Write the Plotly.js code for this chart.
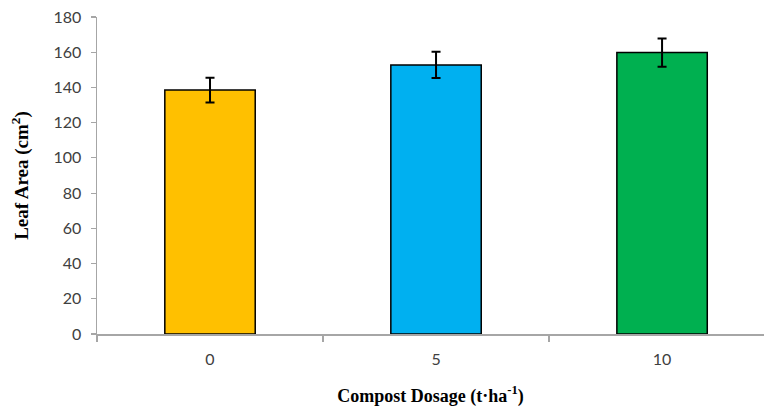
<!DOCTYPE html>
<html>
<head>
<meta charset="utf-8">
<script src="https://cdn.plot.ly/plotly-3.0.1.min.js"></script>
<style>html,body{margin:0;padding:0;background:#fff;}#chart{width:764px;height:412px;}</style>
</head>
<body>
<div id="chart"></div>
<script>
const categories = ['0', '5', '10'];
const leafArea = [138.5, 152.8, 159.8];
const stdErr = [7, 7.5, 8];
const barColors = ['#FFC000', '#00B0F0', '#00B050'];
const yTicks = [0, 20, 40, 60, 80, 100, 120, 140, 160, 180];

const trace = {
  type: 'bar',
  x: categories,
  y: leafArea,
  width: 0.4,
  marker: {color: barColors, line: {color: '#000000', width: 1.5}},
  error_y: {type: 'data', array: stdErr, visible: true, color: '#000000', thickness: 2, width: 4.5},
  hoverinfo: 'none'
};

const layout = {
  width: 764,
  height: 412,
  margin: {l: 97, r: 0, t: 17, b: 78, pad: 0},
  paper_bgcolor: '#ffffff',
  plot_bgcolor: '#ffffff',
  showlegend: false,
  bargap: 0.6,
  xaxis: {
    type: 'category',
    range: [-0.5, 2.451],
    tickson: 'boundaries',
    ticks: 'outside',
    ticklen: 6,
    tickwidth: 1.2,
    tickcolor: '#A6A6A6',
    showline: true,
    linecolor: '#A6A6A6',
    linewidth: 1.5,
    showgrid: false,
    zeroline: false,
    ticklabelstandoff: 10,
    tickfont: {family: 'Lato, "Open Sans", sans-serif', size: 16, color: '#404040'},
    title: {text: '<b>Compost Dosage (t·ha<sup>-1</sup>)</b>', font: {family: '"Liberation Serif", "Times New Roman", serif', size: 18, color: '#000000'}, standoff: 22}
  },
  yaxis: {
    range: [0, 180],
    tickvals: yTicks,
    ticks: 'outside',
    ticklen: 5,
    tickwidth: 1.2,
    tickcolor: '#A6A6A6',
    showline: true,
    linecolor: '#A6A6A6',
    linewidth: 1.5,
    showgrid: false,
    zeroline: false,
    ticklabelstandoff: 6,
    tickfont: {family: 'Lato, "Open Sans", sans-serif', size: 16, color: '#404040'},
    title: {text: '<b>Leaf Area (cm<sup>2</sup>)</b>', font: {family: '"Liberation Serif", "Times New Roman", serif', size: 19, color: '#000000'}, standoff: 20}
  }
};

Plotly.newPlot('chart', [trace], layout, {staticPlot: true, displayModeBar: false});
</script>
</body>
</html>
